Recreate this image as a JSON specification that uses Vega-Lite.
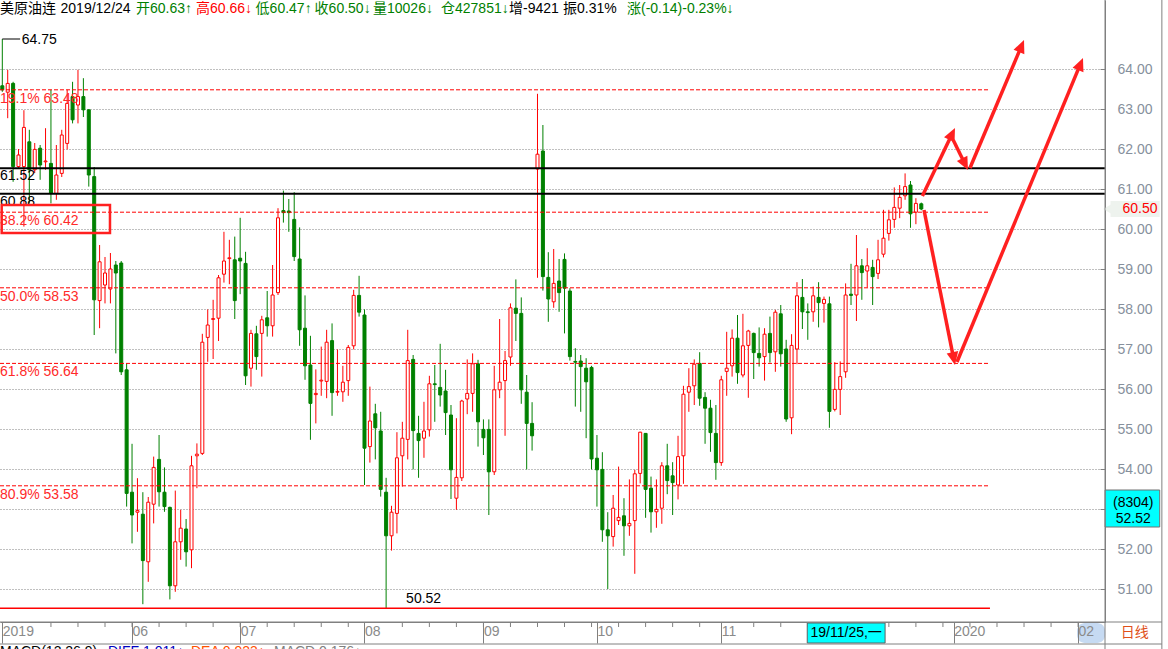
{
  "$schema": "https://vega.github.io/schema/vega-lite/v6.json",
  "width": 1105,
  "height": 622,
  "autosize": "none",
  "padding": {"left": 0, "top": 0, "right": 63, "bottom": 27},
  "background": "#ffffff",
  "config": {"view": {"stroke": null}, "font": "Liberation Sans, Noto Sans CJK SC"},
  "resolve": {"axis": {"x": "independent", "y": "independent"}},
  "datasets": {
    "candles": [
      {"i":0,"o":63.58,"h":64.75,"l":63.43,"c":63.48},
      {"i":1,"o":63.42,"h":63.98,"l":62.77,"c":63.64},
      {"i":2,"o":63.64,"h":63.68,"l":61.18,"c":61.56},
      {"i":3,"o":61.56,"h":62.0,"l":61.5,"c":61.85},
      {"i":4,"o":61.56,"h":62.97,"l":60.06,"c":62.54},
      {"i":5,"o":62.18,"h":62.48,"l":60.64,"c":61.48},
      {"i":6,"o":61.48,"h":62.15,"l":61.4,"c":61.99},
      {"i":7,"o":62.02,"h":62.1,"l":61.23,"c":61.6},
      {"i":8,"o":61.68,"h":62.52,"l":61.48,"c":61.7},
      {"i":9,"o":61.64,"h":63.48,"l":60.64,"c":60.89},
      {"i":10,"o":60.89,"h":62.1,"l":60.73,"c":61.35},
      {"i":11,"o":61.39,"h":62.48,"l":61.3,"c":62.35},
      {"i":12,"o":62.14,"h":63.48,"l":61.99,"c":63.14},
      {"i":13,"o":63.31,"h":63.68,"l":62.64,"c":62.73},
      {"i":14,"o":63.1,"h":63.98,"l":62.64,"c":63.31},
      {"i":15,"o":63.31,"h":63.77,"l":62.8,"c":62.98},
      {"i":16,"o":62.98,"h":62.99,"l":61.06,"c":61.35},
      {"i":17,"o":61.31,"h":61.55,"l":57.35,"c":58.23},
      {"i":18,"o":58.21,"h":59.6,"l":57.52,"c":59.18},
      {"i":19,"o":58.6,"h":59.3,"l":58.14,"c":58.9},
      {"i":20,"o":58.5,"h":59.4,"l":58.14,"c":59.0},
      {"i":21,"o":59.1,"h":59.2,"l":56.89,"c":58.9},
      {"i":22,"o":59.15,"h":59.2,"l":56.35,"c":56.43},
      {"i":23,"o":56.48,"h":56.64,"l":53.06,"c":53.39},
      {"i":24,"o":53.42,"h":54.63,"l":52.14,"c":52.85},
      {"i":25,"o":52.92,"h":53.77,"l":52.43,"c":52.96},
      {"i":26,"o":52.87,"h":53.42,"l":50.62,"c":51.71},
      {"i":27,"o":51.68,"h":53.3,"l":51.18,"c":53.17},
      {"i":28,"o":53.12,"h":54.31,"l":52.64,"c":54.04},
      {"i":29,"o":54.24,"h":54.85,"l":53.06,"c":53.43},
      {"i":30,"o":53.42,"h":54.04,"l":52.93,"c":53.06},
      {"i":31,"o":53.04,"h":53.06,"l":50.74,"c":51.08},
      {"i":32,"o":51.08,"h":53.46,"l":50.93,"c":52.18},
      {"i":33,"o":52.18,"h":52.98,"l":51.73,"c":52.52},
      {"i":34,"o":52.5,"h":52.75,"l":51.56,"c":51.93},
      {"i":35,"o":51.98,"h":54.33,"l":51.52,"c":54.08},
      {"i":36,"o":54.33,"h":54.64,"l":53.52,"c":54.37},
      {"i":37,"o":54.39,"h":57.38,"l":54.35,"c":57.17},
      {"i":38,"o":57.29,"h":57.99,"l":56.68,"c":57.6},
      {"i":39,"o":57.74,"h":58.23,"l":56.75,"c":57.76},
      {"i":40,"o":57.77,"h":58.85,"l":57.2,"c":58.78},
      {"i":41,"o":58.87,"h":59.93,"l":58.66,"c":59.2},
      {"i":42,"o":59.26,"h":59.73,"l":58.62,"c":59.28},
      {"i":43,"o":59.23,"h":59.81,"l":57.75,"c":58.21},
      {"i":44,"o":59.27,"h":60.28,"l":58.37,"c":59.2},
      {"i":45,"o":59.14,"h":59.43,"l":56.1,"c":56.33},
      {"i":46,"o":56.52,"h":57.48,"l":56.06,"c":57.39},
      {"i":47,"o":57.38,"h":57.58,"l":56.48,"c":56.81},
      {"i":48,"o":57.39,"h":57.83,"l":56.31,"c":57.73},
      {"i":49,"o":57.78,"h":58.45,"l":57.31,"c":57.58},
      {"i":50,"o":57.58,"h":59.1,"l":57.31,"c":58.35},
      {"i":51,"o":58.41,"h":60.52,"l":58.35,"c":60.28},
      {"i":52,"o":60.46,"h":60.96,"l":60.16,"c":60.41},
      {"i":53,"o":60.45,"h":60.75,"l":59.93,"c":60.41},
      {"i":54,"o":60.24,"h":60.92,"l":59.2,"c":59.31},
      {"i":55,"o":59.25,"h":60.04,"l":57.08,"c":57.48},
      {"i":56,"o":57.52,"h":58.34,"l":56.23,"c":56.58},
      {"i":57,"o":56.6,"h":57.33,"l":54.73,"c":55.64},
      {"i":58,"o":55.86,"h":56.49,"l":55.14,"c":55.89},
      {"i":59,"o":56.2,"h":57.06,"l":55.83,"c":56.22},
      {"i":60,"o":56.19,"h":57.48,"l":55.77,"c":57.17},
      {"i":61,"o":57.21,"h":57.64,"l":55.33,"c":55.91},
      {"i":62,"o":55.92,"h":56.99,"l":55.83,"c":55.94},
      {"i":63,"o":55.93,"h":56.58,"l":55.68,"c":56.17},
      {"i":64,"o":56.21,"h":57.1,"l":55.83,"c":57.04},
      {"i":65,"o":57.08,"h":58.48,"l":56.99,"c":58.34},
      {"i":66,"o":58.34,"h":58.83,"l":57.81,"c":57.92},
      {"i":67,"o":57.85,"h":57.99,"l":53.6,"c":54.52},
      {"i":68,"o":54.56,"h":56.06,"l":54.16,"c":55.2},
      {"i":69,"o":55.38,"h":55.63,"l":54.24,"c":55.03},
      {"i":70,"o":54.95,"h":55.43,"l":53.31,"c":53.49},
      {"i":71,"o":53.42,"h":53.78,"l":50.52,"c":52.33},
      {"i":72,"o":52.33,"h":53.08,"l":51.96,"c":52.92},
      {"i":73,"o":52.89,"h":54.92,"l":52.39,"c":54.28},
      {"i":74,"o":54.33,"h":55.18,"l":53.56,"c":54.77},
      {"i":75,"o":54.74,"h":57.48,"l":54.24,"c":56.71},
      {"i":76,"o":56.74,"h":56.85,"l":53.99,"c":54.96},
      {"i":77,"o":54.89,"h":55.33,"l":53.78,"c":54.71},
      {"i":78,"o":54.77,"h":55.68,"l":54.28,"c":54.95},
      {"i":79,"o":54.98,"h":56.33,"l":54.81,"c":56.13},
      {"i":80,"o":56.13,"h":56.6,"l":55.18,"c":56.11},
      {"i":81,"o":56.04,"h":57.13,"l":55.56,"c":55.85},
      {"i":82,"o":55.95,"h":56.48,"l":54.85,"c":55.41},
      {"i":83,"o":55.35,"h":55.6,"l":53.25,"c":53.98},
      {"i":84,"o":53.27,"h":55.27,"l":52.98,"c":53.79},
      {"i":85,"o":53.78,"h":55.73,"l":53.7,"c":55.7},
      {"i":86,"o":55.75,"h":56.74,"l":55.37,"c":55.89},
      {"i":87,"o":55.89,"h":56.89,"l":55.43,"c":56.63},
      {"i":88,"o":56.63,"h":56.73,"l":54.56,"c":55.18},
      {"i":89,"o":54.99,"h":55.24,"l":54.35,"c":54.78},
      {"i":90,"o":54.99,"h":55.24,"l":52.85,"c":53.93},
      {"i":91,"o":53.93,"h":56.58,"l":53.85,"c":55.98},
      {"i":92,"o":55.98,"h":57.75,"l":55.77,"c":56.17},
      {"i":93,"o":56.21,"h":56.95,"l":54.83,"c":56.71},
      {"i":94,"o":56.8,"h":58.14,"l":56.58,"c":58.03},
      {"i":95,"o":58.02,"h":58.74,"l":57.2,"c":57.89},
      {"i":96,"o":57.89,"h":58.29,"l":55.63,"c":55.98},
      {"i":97,"o":55.92,"h":56.35,"l":53.99,"c":55.14},
      {"i":98,"o":55.14,"h":55.67,"l":54.46,"c":54.83},
      {"i":99,"o":61.5,"h":63.38,"l":58.78,"c":61.87},
      {"i":100,"o":61.95,"h":62.6,"l":58.46,"c":58.81},
      {"i":101,"o":58.79,"h":59.42,"l":57.68,"c":58.25},
      {"i":102,"o":58.18,"h":59.5,"l":58.03,"c":58.64},
      {"i":103,"o":58.7,"h":59.25,"l":57.93,"c":58.41},
      {"i":104,"o":59.24,"h":59.39,"l":57.39,"c":58.52},
      {"i":105,"o":58.45,"h":58.52,"l":56.71,"c":56.81},
      {"i":106,"o":56.69,"h":57.02,"l":55.56,"c":56.67},
      {"i":107,"o":56.7,"h":56.85,"l":55.43,"c":56.56},
      {"i":108,"o":56.52,"h":56.77,"l":54.77,"c":56.18},
      {"i":109,"o":56.54,"h":56.58,"l":53.99,"c":54.25},
      {"i":110,"o":54.27,"h":54.85,"l":53.06,"c":53.98},
      {"i":111,"o":53.99,"h":54.42,"l":52.18,"c":52.48},
      {"i":112,"o":52.48,"h":52.92,"l":51.0,"c":52.33},
      {"i":113,"o":52.31,"h":53.35,"l":52.06,"c":53.02},
      {"i":114,"o":52.71,"h":54.06,"l":52.6,"c":52.79},
      {"i":115,"o":52.83,"h":53.27,"l":51.83,"c":52.58},
      {"i":116,"o":52.58,"h":53.74,"l":52.33,"c":52.64},
      {"i":117,"o":52.71,"h":53.98,"l":51.38,"c":53.88},
      {"i":118,"o":53.89,"h":54.93,"l":53.64,"c":54.92},
      {"i":119,"o":54.89,"h":54.9,"l":52.78,"c":53.49},
      {"i":120,"o":53.52,"h":53.81,"l":52.41,"c":52.93},
      {"i":121,"o":52.93,"h":53.74,"l":52.53,"c":52.99},
      {"i":122,"o":53.02,"h":54.17,"l":52.63,"c":54.08},
      {"i":123,"o":54.08,"h":54.63,"l":53.37,"c":53.71},
      {"i":124,"o":53.83,"h":54.17,"l":52.85,"c":53.66},
      {"i":125,"o":53.6,"h":54.83,"l":53.24,"c":54.31},
      {"i":126,"o":54.33,"h":56.08,"l":53.63,"c":55.87},
      {"i":127,"o":55.92,"h":56.52,"l":55.43,"c":56.06},
      {"i":128,"o":56.08,"h":56.74,"l":55.6,"c":56.62},
      {"i":129,"o":56.64,"h":56.92,"l":55.58,"c":55.77},
      {"i":130,"o":55.79,"h":55.92,"l":54.63,"c":55.52},
      {"i":131,"o":55.52,"h":55.73,"l":54.43,"c":54.91},
      {"i":132,"o":54.89,"h":55.6,"l":53.73,"c":54.16},
      {"i":133,"o":54.16,"h":56.33,"l":54.08,"c":56.23},
      {"i":134,"o":56.44,"h":57.43,"l":55.83,"c":56.52},
      {"i":135,"o":56.58,"h":57.49,"l":56.31,"c":57.27},
      {"i":136,"o":57.27,"h":57.85,"l":56.13,"c":56.41},
      {"i":137,"o":56.35,"h":57.88,"l":56.29,"c":57.08},
      {"i":138,"o":57.09,"h":57.48,"l":55.78,"c":57.45},
      {"i":139,"o":57.39,"h":57.41,"l":56.25,"c":56.91},
      {"i":140,"o":56.89,"h":57.54,"l":56.56,"c":56.78},
      {"i":141,"o":56.81,"h":57.52,"l":56.21,"c":57.37},
      {"i":142,"o":57.39,"h":57.81,"l":56.66,"c":56.91},
      {"i":143,"o":56.93,"h":57.98,"l":56.43,"c":57.92},
      {"i":144,"o":57.88,"h":58.1,"l":56.56,"c":56.88},
      {"i":145,"o":57.0,"h":57.23,"l":55.18,"c":55.25},
      {"i":146,"o":55.28,"h":57.37,"l":54.87,"c":57.09},
      {"i":147,"o":57.0,"h":58.67,"l":56.62,"c":58.33},
      {"i":148,"o":58.29,"h":58.75,"l":57.5,"c":57.93},
      {"i":149,"o":57.93,"h":58.14,"l":57.23,"c":57.91},
      {"i":150,"o":57.93,"h":58.56,"l":57.68,"c":58.33},
      {"i":151,"o":58.29,"h":58.67,"l":57.54,"c":58.16},
      {"i":152,"o":58.14,"h":58.31,"l":57.66,"c":58.24},
      {"i":153,"o":58.13,"h":58.31,"l":55.03,"c":55.44},
      {"i":154,"o":55.49,"h":56.67,"l":55.44,"c":55.99},
      {"i":155,"o":55.99,"h":56.69,"l":55.35,"c":56.31},
      {"i":156,"o":56.43,"h":58.64,"l":56.28,"c":58.35},
      {"i":157,"o":58.37,"h":59.13,"l":58.1,"c":58.34},
      {"i":158,"o":58.35,"h":59.85,"l":57.7,"c":59.08},
      {"i":159,"o":59.08,"h":59.25,"l":58.23,"c":58.91},
      {"i":160,"o":58.95,"h":59.52,"l":58.54,"c":59.08},
      {"i":161,"o":59.04,"h":59.23,"l":58.1,"c":58.81},
      {"i":162,"o":58.89,"h":59.73,"l":58.75,"c":59.23},
      {"i":163,"o":59.37,"h":60.48,"l":59.29,"c":59.77},
      {"i":164,"o":59.89,"h":60.48,"l":59.71,"c":60.23},
      {"i":165,"o":60.24,"h":61.04,"l":60.03,"c":60.54},
      {"i":166,"o":60.52,"h":61.1,"l":60.27,"c":60.79},
      {"i":167,"o":60.83,"h":61.39,"l":60.73,"c":61.06},
      {"i":168,"o":61.1,"h":61.2,"l":60.03,"c":60.38},
      {"i":169,"o":60.42,"h":60.77,"l":60.12,"c":60.64},
      {"i":170,"o":60.63,"h":60.66,"l":60.47,"c":60.5}
    ],
    "fib": [
      {"p":63.48,"t":"19.1% 63.48"},
      {"p":60.42,"t":"38.2% 60.42"},
      {"p":58.53,"t":"50.0% 58.53"},
      {"p":56.64,"t":"61.8% 56.64"},
      {"p":53.58,"t":"80.9% 53.58"}
    ],
    "blk": [
      {"p":61.52,"t":"61.52"},
      {"p":60.88,"t":"60.88"}
    ],
    "low": [{"p":50.52,"t":"50.52"}],
    "high": [{"p":64.75,"t":"64.75"}],
    "weeks": [
      {"i":9},{"i":14},{"i":19},{"i":24},{"i":29},{"i":34},{"i":39},{"i":44},{"i":49},{"i":54},{"i":59},{"i":64},
      {"i":74},{"i":79},{"i":84},{"i":89},{"i":94},{"i":99},{"i":104},{"i":109},{"i":114},{"i":119},{"i":124},{"i":129},
      {"i":139},{"i":144},{"i":149},{"i":154},{"i":159},{"i":164},{"i":169},{"i":174},{"i":179},{"i":184},{"i":189},{"i":194},{"i":199}
    ],
    "arrows": [
      {"x1":170.2,"y1":60.825,"x2":175.58,"y2":62.345,"tx":176.23,"ty":62.525,"a":25.9},
      {"x1":175.9,"y1":62.225,"x2":177.97,"y2":61.655,"tx":178.63,"ty":61.475,"a":153.4},
      {"x1":179.0,"y1":61.525,"x2":188.42,"y2":64.54,"tx":189.0,"ty":64.725,"a":22.9},
      {"x1":170.5,"y1":60.475,"x2":175.93,"y2":56.795,"tx":176.23,"ty":56.6,"a":168.7},
      {"x1":176.6,"y1":56.675,"x2":199.33,"y2":64.09,"tx":199.91,"ty":64.275,"a":22.5}
    ],
    "header": [
      {"x":-0.43,"t":"美原油连","c":"k"},
      {"x":10.77,"t":"2019/12/24","c":"k"},
      {"x":24.73,"t":"开60.63↑","c":"g"},
      {"x":35.83,"t":"高60.66↓","c":"r"},
      {"x":46.86,"t":"低60.47↑","c":"g"},
      {"x":57.77,"t":"收60.50↓","c":"g"},
      {"x":68.57,"t":"量10026↓","c":"g"},
      {"x":81.15,"t":"仓427851↓","c":"g"},
      {"x":93.73,"t":"增-9421","c":"k"},
      {"x":103.72,"t":"振0.31%","c":"k"},
      {"x":115.56,"t":"涨(-0.14)-0.23%↓","c":"g"}
    ],
    "footer": [
      {"x":-0.43,"t":"MACD(12,26,9)","c":"k"},
      {"x":19.55,"t":"DIFF 1.011↓","c":"b"},
      {"x":34.9,"t":"DEA 0.923↑","c":"o"},
      {"x":50.26,"t":"MACD 0.176↓","c":"s"}
    ]
  },
  "layer": [
    {
      "data": {"name": "weeks"},
      "mark": {"type": "rule", "color": "#808080", "strokeWidth": 1},
      "encoding": {
        "x": {"field": "i", "type": "quantitative", "axis": null},
        "y": {"datum": 50.175, "type": "quantitative", "axis": null},
        "y2": {"datum": 50.05}
      }
    },
    {
      "data": {"name": "candles"},
      "mark": {"type": "rule", "strokeWidth": 1},
      "encoding": {
        "x": {"field": "i", "type": "quantitative", "scale": {"domain": [-0.425, 203.98], "nice": false, "zero": false, "padding": 0}, "axis": null},
        "y": {"field": "l", "type": "quantitative", "scale": {"domain": [50.175, 65.725], "nice": false, "zero": false, "padding": 0},
          "axis": {"orient": "right", "values": [51,52,53,54,55,56,57,58,59,60,61,62,63,64], "labelExpr": "datum.value == 53 ? '' : format(datum.value, '.2f')", "grid": true, "gridColor": "#808080", "gridDash": [1,2], "gridWidth": 1, "ticks": true, "tickSize": -5, "tickColor": "#808080", "labelPadding": 17, "labelFontSize": 14, "labelFont": "Liberation Sans", "labelColor": "#86909c", "domainColor": "#808080", "domainWidth": 1, "title": null, "labelAlign": "left", "labelBaseline": "middle"}},
        "y2": {"field": "h"},
        "color": {"condition": {"test": "datum.c >= datum.o", "value": "#ff0000"}, "value": "#008000"}
      }
    },
    {
      "data": {"name": "candles"},
      "mark": {"type": "bar", "size": 3, "strokeWidth": 1},
      "encoding": {
        "x": {"field": "i", "type": "quantitative",
          "axis": {"orient": "bottom", "values": [0,24,44,67,89,110,133,176,199], "labelExpr": "datum.value==0?'2019':datum.value==24?'06':datum.value==44?'07':datum.value==67?'08':datum.value==89?'09':datum.value==110?'10':datum.value==133?'11':datum.value==176?'2020':'02'", "tickSize": 21, "tickColor": "#808080", "domainColor": "#808080", "labelAlign": "left", "labelBaseline": "top", "labelPadding": -19, "labelDx": 2, "labelFontSize": 14, "labelFont": "Liberation Sans", "labelColor": "#8a8a8a", "grid": false, "title": null, "labelFlush": false, "labelOverlap": false, "zindex": 1}},
        "y": {"field": "o", "type": "quantitative", "axis": null},
        "y2": {"field": "c"},
        "fill": {"condition": {"test": "datum.c >= datum.o", "value": "#ffffff"}, "value": "#008000"},
        "stroke": {"condition": {"test": "datum.c >= datum.o", "value": "#ff0000"}, "value": "#008000"}
      }
    },
    {
      "data": {"name": "fib"},
      "mark": {"type": "rule", "color": "#ff0000", "strokeDash": [4, 2], "strokeWidth": 1},
      "encoding": {
        "x": {"datum": -0.425, "type": "quantitative", "axis": null},
        "x2": {"datum": 182.7},
        "y": {"field": "p", "type": "quantitative", "axis": null}
      }
    },
    {
      "data": {"name": "fib"},
      "mark": {"type": "text", "align": "left", "baseline": "top", "dy": 2, "fontSize": 14, "font": "Liberation Sans", "color": "#ff2a2a"},
      "encoding": {
        "x": {"datum": -0.425, "type": "quantitative", "axis": null},
        "y": {"field": "p", "type": "quantitative", "axis": null},
        "text": {"field": "t"}
      }
    },
    {
      "data": {"name": "low"},
      "mark": {"type": "rule", "color": "#ff0000", "strokeWidth": 1.5},
      "encoding": {
        "x": {"datum": -0.425, "type": "quantitative", "axis": null},
        "x2": {"datum": 182.7},
        "y": {"field": "p", "type": "quantitative", "axis": null}
      }
    },
    {
      "data": {"name": "low"},
      "mark": {"type": "text", "align": "left", "baseline": "bottom", "dy": -2, "fontSize": 14, "font": "Liberation Sans", "color": "#000000"},
      "encoding": {
        "x": {"datum": 74.7, "type": "quantitative", "axis": null},
        "y": {"field": "p", "type": "quantitative", "axis": null},
        "text": {"field": "t"}
      }
    },
    {
      "data": {"name": "high"},
      "mark": {"type": "rule", "color": "#000000", "strokeWidth": 1},
      "encoding": {
        "x": {"datum": 0, "type": "quantitative", "axis": null},
        "x2": {"datum": 3.3},
        "y": {"field": "p", "type": "quantitative", "axis": null}
      }
    },
    {
      "data": {"name": "high"},
      "mark": {"type": "text", "align": "left", "baseline": "middle", "dy": 1, "fontSize": 14, "font": "Liberation Sans", "color": "#000000"},
      "encoding": {
        "x": {"datum": 3.6, "type": "quantitative", "axis": null},
        "y": {"field": "p", "type": "quantitative", "axis": null},
        "text": {"field": "t"}
      }
    },
    {
      "data": {"name": "blk"},
      "mark": {"type": "rule", "color": "#000000", "strokeWidth": 2},
      "encoding": {
        "x": {"datum": -0.425, "type": "quantitative", "axis": null},
        "x2": {"datum": 203.98},
        "y": {"field": "p", "type": "quantitative", "axis": null}
      }
    },
    {
      "data": {"name": "blk"},
      "mark": {"type": "text", "align": "left", "baseline": "top", "dy": 1, "fontSize": 14, "font": "Liberation Sans", "color": "#000000"},
      "encoding": {
        "x": {"datum": -0.425, "type": "quantitative", "axis": null},
        "y": {"field": "p", "type": "quantitative", "axis": null},
        "text": {"field": "t"}
      }
    },
    {
      "data": {"values": [{"k": 1}]},
      "mark": {"type": "rect", "fill": null, "fillOpacity": 0, "stroke": "#ff2020", "strokeWidth": 2.5},
      "encoding": {
        "x": {"datum": -0.11, "type": "quantitative", "axis": null},
        "x2": {"datum": 19.92},
        "y": {"datum": 60.6, "type": "quantitative", "axis": null},
        "y2": {"datum": 59.9}
      }
    },
    {
      "data": {"name": "arrows"},
      "mark": {"type": "rule", "color": "#ff2020", "strokeWidth": 3.5},
      "encoding": {
        "x": {"field": "x1", "type": "quantitative", "axis": null},
        "x2": {"field": "x2"},
        "y": {"field": "y1", "type": "quantitative", "axis": null},
        "y2": {"field": "y2"}
      }
    },
    {
      "data": {"name": "arrows"},
      "mark": {"type": "point", "shape": "M0,0L0.45,1L-0.45,1Z", "filled": true, "color": "#ff2020", "opacity": 1, "size": 676, "strokeWidth": 0},
      "encoding": {
        "x": {"field": "tx", "type": "quantitative", "axis": null},
        "y": {"field": "ty", "type": "quantitative", "axis": null},
        "angle": {"field": "a", "type": "quantitative", "scale": null}
      }
    },
    {
      "data": {"values": [{"k": 1}]},
      "mark": {"type": "rect", "fill": "#eef3ee"},
      "encoding": {
        "x": {"datum": 205.0, "type": "quantitative", "axis": null},
        "x2": {"datum": 214.1},
        "y": {"datum": 60.7, "type": "quantitative", "axis": null},
        "y2": {"datum": 60.3}
      }
    },
    {
      "data": {"values": [{"k": 1}]},
      "mark": {"type": "point", "shape": "triangle-left", "filled": true, "color": "#eef3ee", "opacity": 1, "size": 200, "strokeWidth": 0},
      "encoding": {
        "x": {"datum": 204.75, "type": "quantitative", "axis": null},
        "y": {"datum": 60.5, "type": "quantitative", "axis": null}
      }
    },
    {
      "data": {"values": [{"t": "60.50"}]},
      "mark": {"type": "text", "align": "center", "baseline": "middle", "fontSize": 14, "font": "Liberation Sans", "color": "#ff0000"},
      "encoding": {
        "x": {"datum": 210.45, "type": "quantitative", "axis": null},
        "y": {"datum": 60.5, "type": "quantitative", "axis": null},
        "text": {"field": "t"}
      }
    },
    {
      "data": {"values": [{"k": 1}]},
      "mark": {"type": "rect", "fill": "#00ffff", "stroke": "#707070", "strokeWidth": 1},
      "encoding": {
        "x": {"datum": 204.0, "type": "quantitative", "axis": null},
        "x2": {"datum": 214.1},
        "y": {"datum": 53.475, "type": "quantitative", "axis": null},
        "y2": {"datum": 52.55}
      }
    },
    {
      "data": {"values": [{"t": "(8304)", "p": 53.15}, {"t": "52.52", "p": 52.76}]},
      "mark": {"type": "text", "align": "center", "baseline": "middle", "fontSize": 14, "font": "Liberation Sans", "color": "#000000"},
      "encoding": {
        "x": {"datum": 209.2, "type": "quantitative", "axis": null},
        "y": {"field": "p", "type": "quantitative", "axis": null},
        "text": {"field": "t"}
      }
    },
    {
      "data": {"values": [{"k": 1}]},
      "mark": {"type": "rect", "fill": "#c6daf2", "cornerRadius": 8},
      "encoding": {
        "x": {"datum": 198.8, "type": "quantitative", "axis": null},
        "x2": {"datum": 204.0},
        "y": {"datum": 50.15, "type": "quantitative", "axis": null},
        "y2": {"datum": 49.65}
      }
    },
    {
      "data": {"values": [{"k": 1}]},
      "mark": {"type": "rect", "fill": "#00ffff", "stroke": "#606060", "strokeWidth": 1},
      "encoding": {
        "x": {"datum": 148.9, "type": "quantitative", "axis": null},
        "x2": {"datum": 163.3},
        "y": {"datum": 50.15, "type": "quantitative", "axis": null},
        "y2": {"datum": 49.65}
      }
    },
    {
      "data": {"values": [{"t": "19/11/25,一"}]},
      "mark": {"type": "text", "align": "center", "baseline": "middle", "fontSize": 14, "font": "Liberation Sans, Noto Sans CJK SC", "color": "#000000"},
      "encoding": {
        "x": {"datum": 156.1, "type": "quantitative", "axis": null},
        "y": {"datum": 49.9, "type": "quantitative", "axis": null},
        "text": {"field": "t"}
      }
    },
    {
      "data": {"values": [{"t": "日线"}]},
      "mark": {"type": "text", "align": "center", "baseline": "middle", "fontSize": 14, "font": "Noto Sans CJK SC", "color": "#e0501a"},
      "encoding": {
        "x": {"datum": 209.5, "type": "quantitative", "axis": null},
        "y": {"datum": 49.9, "type": "quantitative", "axis": null},
        "text": {"field": "t"}
      }
    },
    {
      "data": {"values": [{"p": 49.625}, {"p": 50.175}]},
      "mark": {"type": "rule", "color": "#808080", "strokeWidth": 1},
      "encoding": {
        "x": {"datum": -0.425, "type": "quantitative", "axis": null},
        "x2": {"datum": 214.5},
        "y": {"field": "p", "type": "quantitative", "axis": null}
      }
    },
    {
      "data": {"values": [{"x": 214.5}, {"x": 203.98}]},
      "mark": {"type": "rule", "color": "#808080", "strokeWidth": 1},
      "encoding": {
        "x": {"field": "x", "type": "quantitative", "axis": null},
        "y": {"datum": 65.725, "type": "quantitative", "axis": null},
        "y2": {"datum": 49.45}
      }
    },
    {
      "data": {"name": "header"},
      "mark": {"type": "text", "align": "left", "baseline": "middle", "fontSize": 14, "font": "Liberation Sans, Noto Sans CJK SC"},
      "encoding": {
        "x": {"field": "x", "type": "quantitative", "axis": null},
        "y": {"datum": 65.5, "type": "quantitative", "axis": null},
        "text": {"field": "t"},
        "color": {"field": "c", "type": "nominal", "scale": {"domain": ["k", "g", "r", "b", "o", "s"], "range": ["#000000", "#008000", "#ff0000", "#0000c0", "#ff5000", "#808080"]}, "legend": null}
      }
    },
    {
      "data": {"name": "footer"},
      "mark": {"type": "text", "align": "left", "baseline": "top", "fontSize": 14, "font": "Liberation Sans, Noto Sans CJK SC"},
      "encoding": {
        "x": {"field": "x", "type": "quantitative", "axis": null},
        "y": {"datum": 49.6, "type": "quantitative", "axis": null},
        "text": {"field": "t"},
        "color": {"field": "c", "type": "nominal", "legend": null}
      }
    }
  ]
}
